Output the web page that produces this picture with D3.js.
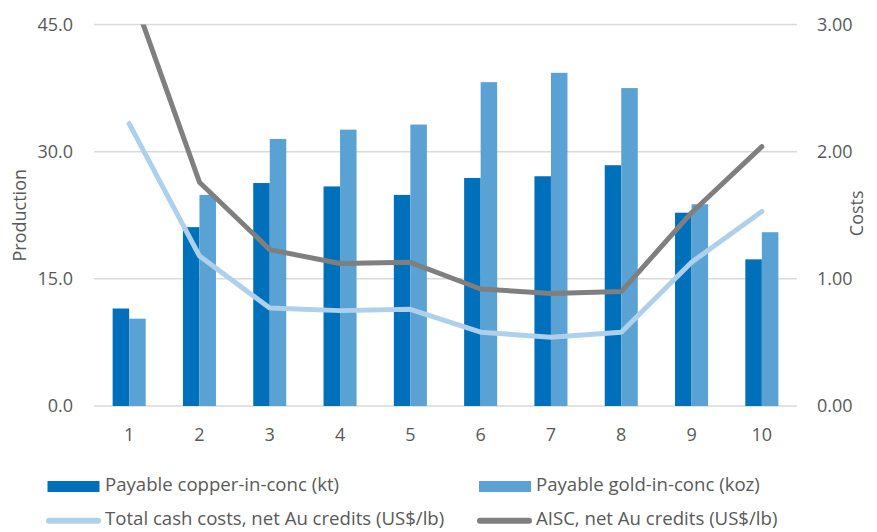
<!DOCTYPE html>
<html>
<head>
<meta charset="utf-8">
<script src="https://cdn.jsdelivr.net/npm/d3@7"></script>
<style>
  html, body { margin: 0; padding: 0; background: #fff; }
  svg { display: block; font-family: "Open Sans", "Noto Sans", sans-serif; }
</style>
</head>
<body>
<svg id="chart" width="877" height="532"></svg>
<script>
// Categories along the x axis
const categories = ["1", "2", "3", "4", "5", "6", "7", "8", "9", "10"];

// Production series (left axis)
const copperKt = [11.5, 21.1, 26.3, 25.9, 24.9, 26.9, 27.1, 28.4, 22.8, 17.3];
const goldKoz  = [10.3, 24.9, 31.5, 32.6, 33.2, 38.2, 39.3, 37.5, 23.8, 20.5];

// Cost series (right axis)
const cashCosts = [2.22, 1.18, 0.77, 0.75, 0.76, 0.58, 0.54, 0.58, 1.13, 1.53];
const aiscCosts = [3.31, 1.76, 1.23, 1.12, 1.13, 0.92, 0.885, 0.90, 1.52, 2.04];

// Tick values
const leftTicks  = [0, 15, 30, 45];
const rightTicks = [0, 1, 2, 3];

const colors = {
  copper: "#0070BA",
  gold: "#5AA2D4",
  cash: "#AED0EA",
  aisc: "#7F7F7F",
  grid: "#D9D9D9",
  text: "#595959"
};

const FONT = "18px";
const LEGEND_FONT = "18.6px";

const svg = d3.select("#chart");
const plot = { left: 94, right: 797, top: 24.5, bottom: 406 };

const x = d3.scaleBand().domain(categories).range([plot.left, plot.right]).paddingInner(0).paddingOuter(0);
const yL = d3.scaleLinear().domain([0, 45]).range([plot.bottom, plot.top]);
const yR = d3.scaleLinear().domain([0, 3]).range([plot.bottom, plot.top]);

const barW = x.bandwidth() * 0.235;

// Gridlines
svg.append("g").selectAll("line").data(leftTicks).join("line")
  .attr("x1", plot.left).attr("x2", plot.right)
  .attr("y1", d => yL(d)).attr("y2", d => yL(d))
  .attr("stroke", colors.grid).attr("stroke-width", 1.5);

function styleAxis(g) {
  g.select(".domain").remove();
  g.attr("font-family", null).attr("font-size", null);
  g.selectAll("text").attr("fill", colors.text).style("font-size", FONT);
}

// Left axis
svg.append("g").attr("transform", `translate(${plot.left - 21},0)`)
  .call(d3.axisLeft(yL).tickValues(leftTicks).tickFormat(d3.format(".1f")).tickSize(0).tickPadding(0))
  .call(styleAxis);

// Right axis
svg.append("g").attr("transform", `translate(${plot.right + 20},0)`)
  .call(d3.axisRight(yR).tickValues(rightTicks).tickFormat(d3.format(".2f")).tickSize(0).tickPadding(0))
  .call(styleAxis);

// Bottom axis labels
svg.append("g").attr("transform", `translate(0,${plot.bottom + 22})`)
  .call(d3.axisBottom(x).tickSize(0).tickPadding(0))
  .call(styleAxis);

// Axis titles
const midY = (plot.top + plot.bottom) / 2;
svg.append("text").attr("transform", `translate(26,${midY}) rotate(-90)`)
  .attr("text-anchor", "middle").attr("fill", colors.text).style("font-size", FONT).text("Production");
svg.append("text").attr("transform", `translate(863,${midY - 2}) rotate(-90)`)
  .attr("text-anchor", "middle").attr("fill", colors.text).style("font-size", FONT).text("Costs");

// Bars
const barsG = svg.append("g");
barsG.selectAll("rect.copper").data(categories).join("rect").attr("class", "copper")
  .attr("x", d => x(d) + x.bandwidth() / 2 - barW)
  .attr("width", barW)
  .attr("y", (d, i) => yL(copperKt[i]))
  .attr("height", (d, i) => yL(0) - yL(copperKt[i]))
  .attr("fill", colors.copper);
barsG.selectAll("rect.gold").data(categories).join("rect").attr("class", "gold")
  .attr("x", d => x(d) + x.bandwidth() / 2)
  .attr("width", barW)
  .attr("y", (d, i) => yL(goldKoz[i]))
  .attr("height", (d, i) => yL(0) - yL(goldKoz[i]))
  .attr("fill", colors.gold);

// Lines, clipped to the plot area
svg.append("clipPath").attr("id", "plotClip").append("rect")
  .attr("x", plot.left).attr("y", plot.top)
  .attr("width", plot.right - plot.left).attr("height", plot.bottom - plot.top);

const line = vals => d3.line()
  .x((d, i) => x(categories[i]) + x.bandwidth() / 2)
  .y(d => yR(d))(vals);

const linesG = svg.append("g").attr("clip-path", "url(#plotClip)");
linesG.append("path").attr("d", line(cashCosts)).attr("fill", "none")
  .attr("stroke", colors.cash).attr("stroke-width", 5).attr("stroke-linecap", "round").attr("stroke-linejoin", "round");
linesG.append("path").attr("d", line(aiscCosts)).attr("fill", "none")
  .attr("stroke", colors.aisc).attr("stroke-width", 5).attr("stroke-linecap", "round").attr("stroke-linejoin", "round");

// Legend
const legend = svg.append("g").style("font-size", LEGEND_FONT).attr("fill", colors.text);
const legendItems = [
  { label: "Payable copper-in-conc (kt)", type: "rect", color: colors.copper, x: 47.5, tx: 105, y: 484 },
  { label: "Payable gold-in-conc (koz)", type: "rect", color: colors.gold, x: 479, tx: 536, y: 484 },
  { label: "Total cash costs, net Au credits (US$/lb)", type: "line", color: colors.cash, x: 46, tx: 105, y: 518.5 },
  { label: "AISC, net Au credits (US$/lb)", type: "line", color: colors.aisc, x: 477, tx: 536, y: 518.5 }
];
legendItems.forEach(it => {
  const g = legend.append("g");
  if (it.type === "rect") {
    g.append("rect").attr("x", it.x).attr("y", 481).attr("width", 52).attr("height", 11).attr("fill", it.color);
  } else {
    g.append("line").attr("x1", it.x + 3).attr("x2", it.x + 52).attr("y1", 520.7).attr("y2", 520.7)
      .attr("stroke", it.color).attr("stroke-width", 6).attr("stroke-linecap", "round");
  }
  g.append("text").attr("x", it.tx).attr("y", it.y).attr("dy", "0.35em").text(it.label);
});
</script>
</body>
</html>
